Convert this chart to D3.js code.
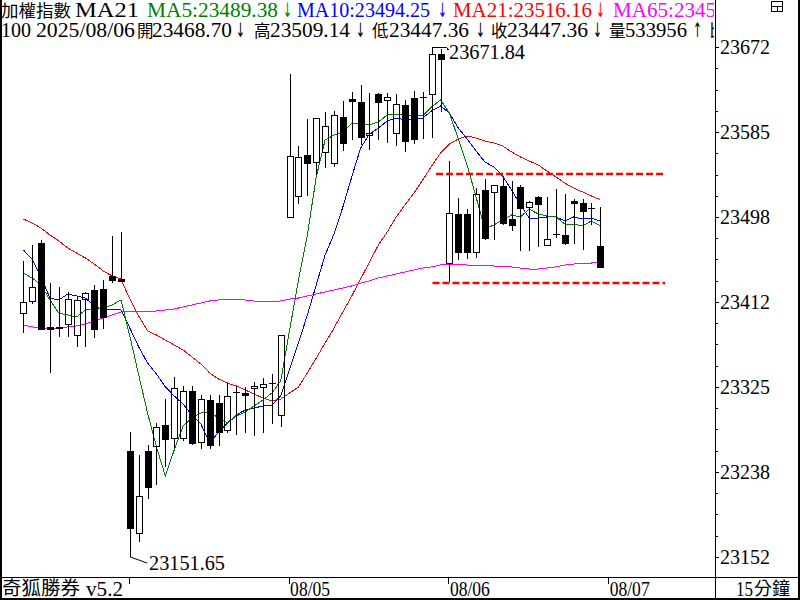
<!DOCTYPE html>
<html>
<head>
<meta charset="utf-8">
<script src="https://cdn.jsdelivr.net/npm/d3@7"></script>
<style>
  html, body { margin: 0; padding: 0; background: #fff; }
  svg { display: block; }
</style>
</head>
<body>
<div id="chart"></div>
<script>
// 15 minute bars: 08/01 (last 12), 08/04, 08/05, 08/06
const open = [
  23400.5, 23412.8, 23471.9, 23386.3, 23386.3, 23389.3, 23378.1, 23414.8, 23424.0, 23425.0, 23438.3, 23435.2,
  23259.8, 23176.1, 23259.8, 23264.9, 23286.3, 23273.0, 23273.0, 23321.0, 23269.0, 23311.8, 23308.7, 23281.2, 23320.0, 23318.9, 23324.0, 23325.1, 23329.1, 23296.5,
  23498.5, 23519.9, 23561.7, 23554.6, 23564.8, 23553.5, 23600.5, 23618.8, 23615.8, 23582.1, 23623.9, 23617.8, 23584.1, 23612.7, 23619.8, 23620.9, 23623.9, 23664.7,
  23451.5, 23501.5, 23501.5, 23462.8, 23526.0, 23524.0, 23530.1, 23496.4, 23529.1, 23508.7, 23518.9, 23469.9, 23481.1, 23480.1, 23514.8, 23512.7, 23507.6, 23468.70
];
const high = [
  23453.6, 23469.9, 23475.0, 23431.1, 23427.1, 23422.0, 23416.9, 23422.0, 23429.1, 23434.2, 23479.1, 23483.2,
  23279.2, 23255.7, 23265.9, 23288.3, 23312.8, 23335.3, 23326.1, 23326.1, 23316.9, 23316.9, 23316.9, 23329.1, 23326.1, 23325.1, 23330.2, 23334.2, 23338.3, 23378.1,
  23644.3, 23570.9, 23598.4, 23599.4, 23605.6, 23606.6, 23616.8, 23626.0, 23633.1, 23624.9, 23624.9, 23624.9, 23623.9, 23617.8, 23627.0, 23626.0, 23671.84, 23669.8,
  23555.6, 23517.8, 23506.6, 23528.0, 23537.2, 23531.1, 23538.2, 23535.2, 23531.1, 23514.8, 23519.9, 23518.9, 23527.0, 23521.9, 23516.8, 23516.8, 23512.7, 23509.14
];
const low = [
  23380.1, 23409.7, 23383.2, 23339.3, 23376.1, 23376.1, 23365.9, 23365.9, 23375.0, 23384.2, 23431.1, 23432.2,
  23151.65, 23167.0, 23210.8, 23225.1, 23243.5, 23262.8, 23270.0, 23265.9, 23261.8, 23261.8, 23264.9, 23278.1, 23276.1, 23278.1, 23275.1, 23278.1, 23287.3, 23284.3,
  23498.5, 23511.7, 23519.9, 23541.3, 23548.4, 23549.5, 23565.8, 23577.0, 23571.9, 23566.8, 23577.0, 23573.9, 23570.9, 23564.8, 23572.9, 23578.0, 23579.0, 23605.6,
  23432.2, 23454.6, 23455.6, 23456.6, 23475.0, 23475.0, 23490.3, 23484.2, 23463.8, 23463.8, 23467.9, 23469.9, 23477.0, 23469.9, 23470.9, 23464.8, 23490.3, 23447.36
];
const close = [
  23411.8, 23427.1, 23384.2, 23384.2, 23385.2, 23414.8, 23413.8, 23420.9, 23384.2, 23396.5, 23434.2, 23433.2,
  23181.2, 23213.9, 23223.1, 23284.3, 23272.0, 23324.0, 23321.0, 23267.9, 23312.8, 23265.9, 23279.2, 23315.9, 23320.0, 23316.4, 23326.1, 23328.1, 23329.1, 23378.1,
  23560.7, 23559.7, 23553.5, 23599.4, 23591.3, 23602.5, 23573.9, 23616.8, 23580.1, 23584.1, 23615.8, 23620.9, 23613.7, 23576.0, 23578.0, 23620.9, 23664.7, 23659.6,
  23502.5, 23462.8, 23462.8, 23521.9, 23477.0, 23531.1, 23492.3, 23490.3, 23507.6, 23513.8, 23511.7, 23476.0, 23481.1, 23471.9, 23512.7, 23504.6, 23507.6, 23447.36
];

// moving averages
const ma5 = [
  23441.3, 23436.2, 23429.1, 23413.8, 23400.5, 23398.5, 23396.5, 23403.6, 23404.6, 23405.6, 23408.7, 23413.8,
  23377.1, 23337.3, 23298.5, 23263.9, 23234.3, 23260.8, 23285.3, 23293.4, 23298.5, 23299.6, 23293.4, 23288.3, 23295.5, 23299.6, 23305.7, 23311.8, 23318.9, 23331.2,
  23383.2, 23434.2, 23480.1, 23539.3, 23577.0, 23582.1, 23585.2, 23594.3, 23594.3, 23592.3, 23595.4, 23602.5, 23602.5, 23602.5, 23601.5, 23601.5, 23610.7, 23617.8,
  23604.5, 23578.0, 23551.5, 23518.9, 23486.2, 23490.3, 23495.4, 23500.5, 23498.5, 23506.6, 23501.5, 23499.5, 23498.5, 23491.3, 23491.3, 23489.3, 23494.4, 23489.38
];
const ma10 = [
  23464.8, 23455.6, 23437.3, 23415.8, 23413.8, 23419.9, 23417.9, 23415.8, 23407.7, 23403.6, 23403.6, 23403.6,
  23385.2, 23365.9, 23349.5, 23338.3, 23325.1, 23315.9, 23307.7, 23296.5, 23287.3, 23267.9, 23279.2, 23288.3, 23296.5, 23301.6, 23303.6, 23305.7, 23306.7, 23315.9,
  23343.4, 23369.9, 23398.5, 23429.1, 23459.7, 23481.1, 23508.7, 23539.3, 23568.8, 23583.1, 23589.2, 23596.4, 23599.4, 23597.4, 23597.4, 23599.4, 23606.6, 23611.7,
  23604.5, 23589.2, 23578.0, 23565.8, 23554.6, 23549.5, 23540.3, 23526.0, 23510.7, 23497.4, 23497.4, 23498.5, 23498.5, 23494.4, 23498.5, 23496.4, 23497.4, 23494.25
];
const ma21 = [
  23496.4, 23492.3, 23487.2, 23480.1, 23474.0, 23466.8, 23461.7, 23456.6, 23450.5, 23443.4, 23438.3, 23435.2,
  23414.8, 23397.5, 23382.2, 23378.1, 23373.0, 23367.9, 23362.8, 23355.7, 23348.5, 23339.3, 23333.2, 23329.1, 23326.1, 23322.0, 23317.9, 23313.8, 23310.8, 23312.8,
  23318.9, 23325.1, 23339.3, 23354.6, 23369.9, 23385.2, 23401.6, 23417.9, 23435.2, 23452.6, 23469.9, 23483.2, 23498.5, 23510.7, 23522.9, 23536.2, 23550.5, 23563.7,
  23572.9, 23578.0, 23581.1, 23579.0, 23576.0, 23573.9, 23570.9, 23564.8, 23559.7, 23555.6, 23551.5, 23545.4, 23539.3, 23533.1, 23528.0, 23524.0, 23519.9, 23516.16
];
const ma65 = [
  23388.3, 23386.3, 23385.2, 23385.2, 23385.2, 23386.3, 23387.3, 23389.3, 23392.4, 23395.4, 23398.5, 23401.6,
  23401.6, 23401.6, 23401.6, 23402.6, 23403.6, 23404.6, 23406.7, 23408.7, 23410.7, 23412.8, 23413.8, 23414.8, 23413.8, 23413.8, 23412.8, 23411.8, 23411.8, 23412.8,
  23414.8, 23415.8, 23417.9, 23419.9, 23422.0, 23424.0, 23426.0, 23428.1, 23431.1, 23433.2, 23436.2, 23438.3, 23440.3, 23442.4, 23444.4, 23446.4, 23447.5, 23449.5,
  23450.5, 23450.5, 23449.5, 23448.5, 23448.5, 23448.5, 23447.5, 23447.5, 23446.4, 23445.4, 23445.4, 23446.4, 23447.5, 23449.5, 23450.5, 23451.5, 23451.5, 23453.2
];

const lastVolume = 533956;
const lastDate = "2025/08/06";
const dayStarts = [12, 30, 48, 66];
const dayLabels = ["", "08/05", "08/06", "08/07"];
const priceTicks = [23151.65, 23238.35, 23325.05, 23411.75, 23498.44, 23585.14, 23671.84];
// hand drawn box lines (price level, first bar, last bar)
const boxLevels = [23542.3, 23431.1];
const boxFrom = [46.5, 46.1];
const boxTo = 72.3;

const W = 800;
const H = 600;
const plotRight = 715;
const footerTop = 577;
const serif = "'Liberation Serif', 'Times New Roman', serif";
const cjk = "'Noto Sans CJK TC', 'Noto Sans CJK SC', sans-serif";

const svg = d3
  .select("#chart")
  .append("svg")
  .attr("width", W)
  .attr("height", H)
  .style("font-family", serif);

svg.append("rect").attr("width", W).attr("height", H).attr("fill", "#fff");

const defs = svg.append("defs");
defs
  .append("clipPath")
  .attr("id", "plot-clip")
  .append("rect")
  .attr("width", plotRight)
  .attr("height", footerTop);

const x = d3.scaleLinear().domain([0, 65]).range([23.3, 600.3]);
const y = d3.scaleLinear().domain([23151.65, 23671.84]).range([557, 47]);
const px = (i) => Math.round(x(i));
const py = (v) => Math.round(y(v));

const plot = svg.append("g").attr("clip-path", "url(#plot-clip)");

// moving average lines (under the candles)
const maSeries = [
  { values: ma65, color: "#ff00ff" },
  { values: ma21, color: "#ff0000" },
  { values: ma10, color: "#0000ff" },
  { values: ma5, color: "#008000" },
];
const maLine = d3
  .line()
  .x((d, i) => x(i))
  .y((d) => y(d));

plot
  .selectAll("path.ma")
  .data(maSeries)
  .join("path")
  .attr("class", "ma")
  .attr("d", (d) => maLine(d.values))
  .attr("fill", "none")
  .attr("stroke", (d) => d.color)
  .attr("stroke-width", 1)
  .attr("shape-rendering", "crispEdges");

// candles
const bars = open.map((o, i) => ({ i, o, h: high[i], l: low[i], c: close[i] }));

plot
  .selectAll("g.candle")
  .data(bars)
  .join("g")
  .attr("class", "candle")
  .attr("shape-rendering", "crispEdges")
  .each(function (d) {
    const g = d3.select(this);
    const cx = px(d.i) + 0.5;
    const top = py(Math.max(d.o, d.c));
    const bot = py(Math.min(d.o, d.c));
    const up = d.c > d.o;

    g.append("line")
      .attr("x1", cx).attr("x2", cx)
      .attr("y1", py(d.h)).attr("y2", top)
      .attr("stroke", "#000");
    g.append("line")
      .attr("x1", cx).attr("x2", cx)
      .attr("y1", bot).attr("y2", py(d.l))
      .attr("stroke", "#000");

    if (bot - top < 1) {
      // doji
      g.append("line")
        .attr("x1", cx - 3.5).attr("x2", cx + 3.5)
        .attr("y1", top + 0.5).attr("y2", top + 0.5)
        .attr("stroke", "#000");
    } else {
      g.append("rect")
        .attr("x", cx - 3)
        .attr("y", top + 0.5)
        .attr("width", 6)
        .attr("height", bot - top)
        .attr("fill", up ? "none" : "#000")
        .attr("stroke", "#000");
    }
  });

// box lines drawn on the chart
plot
  .selectAll("line.box")
  .data(boxLevels)
  .join("line")
  .attr("class", "box")
  .attr("x1", (d, k) => x(boxFrom[k]))
  .attr("x2", x(boxTo))
  .attr("y1", (d) => y(d))
  .attr("y2", (d) => y(d))
  .attr("stroke", "#ff0000")
  .attr("stroke-width", 2.5)
  .attr("stroke-dasharray", "7,3");

// highest / lowest labels
const hiIdx = d3.maxIndex(high);
const loIdx = d3.minIndex(low);

plot
  .append("path")
  .attr("d", `M${px(hiIdx) + 0.5},${py(high[hiIdx]) + 0.5}H446.5L448.5,${py(high[hiIdx]) + 3}`)
  .attr("fill", "none")
  .attr("stroke", "#000")
  .attr("shape-rendering", "crispEdges");
plot
  .append("text")
  .attr("x", 449)
  .attr("y", py(high[hiIdx]) + 12)
  .attr("font-size", 20)
  .attr("textLength", 76)
  .attr("lengthAdjust", "spacingAndGlyphs")
  .text(high[hiIdx].toFixed(2));

plot
  .append("path")
  .attr("d", `M${px(loIdx) + 0.5},${py(low[loIdx])}L147,${py(low[loIdx]) + 6}`)
  .attr("fill", "none")
  .attr("stroke", "#000");
plot
  .append("text")
  .attr("x", 149)
  .attr("y", py(low[loIdx]) + 13)
  .attr("font-size", 20)
  .attr("textLength", 76)
  .attr("lengthAdjust", "spacingAndGlyphs")
  .text(low[loIdx].toFixed(2));

// header
defs
  .append("clipPath")
  .attr("id", "head-clip")
  .append("rect")
  .attr("width", plotRight - 1)
  .attr("height", 44);

const head = svg.append("g").attr("clip-path", "url(#head-clip)");
const last = open.length - 1;
const down = "\u2193";
const upArrow = "\u2191";

const headerLine1 = [
  { t: "加權指數", x: 1, c: "#000", cjk: true, len: 70 },
  { t: "MA21", x: 75, c: "#000", len: 64 },
  { t: "MA5:" + ma5[last].toFixed(2), x: 147, c: "#008000", len: 131 },
  { t: down, x: 283, c: "#008000", arrow: true },
  { t: "MA10:" + ma10[last].toFixed(2), x: 297, c: "#0000ff", len: 133 },
  { t: down, x: 438, c: "#0000ff", arrow: true },
  { t: "MA21:" + ma21[last].toFixed(2), x: 453, c: "#ff0000", len: 139 },
  { t: down, x: 596, c: "#ff0000", arrow: true },
  { t: "MA65:" + ma65[last].toFixed(2), x: 613, c: "#ff00ff", len: 140 },
];
const headerLine2 = [
  { t: "100", x: 1, len: 30 },
  { t: lastDate, x: 36, len: 99 },
  { t: "開", x: 137, cjk: true },
  { t: open[last].toFixed(2), x: 152, len: 80 },
  { t: down, x: 236, arrow: true },
  { t: "高", x: 254, cjk: true },
  { t: high[last].toFixed(2), x: 270, len: 80 },
  { t: down, x: 356, arrow: true },
  { t: "低", x: 372, cjk: true },
  { t: low[last].toFixed(2), x: 389, len: 80 },
  { t: down, x: 476, arrow: true },
  { t: "收", x: 491, cjk: true },
  { t: close[last].toFixed(2), x: 507, len: 81 },
  { t: down, x: 593, arrow: true },
  { t: "量", x: 609, cjk: true },
  { t: String(lastVolume), x: 625, len: 62 },
  { t: upArrow, x: 693, arrow: true },
  { t: "比", x: 709, cjk: true },
];

function drawHeader(items, baseline) {
  head
    .selectAll(null)
    .data(items)
    .join("text")
    .attr("x", (d) => d.x)
    .attr("y", baseline)
    .attr("fill", (d) => d.c || "#000")
    .attr("font-family", (d) => (d.cjk ? cjk : d.arrow ? "'DejaVu Sans', sans-serif" : serif))
    .attr("font-size", (d) => (d.cjk ? 16.5 : 20))
    .attr("textLength", (d) => (d.arrow ? 9 : d.len || null))
    .attr("lengthAdjust", "spacingAndGlyphs")
    .text((d) => d.t);
}
drawHeader(headerLine1, 17);
drawHeader(headerLine2, 37);

// right price axis
const yAxis = d3
  .axisRight(y)
  .tickValues(priceTicks)
  .tickSize(3)
  .tickPadding(1)
  .tickFormat((d) => Math.round(d));

const axisG = svg
  .append("g")
  .attr("transform", `translate(${plotRight + 1},0)`)
  .call(yAxis);
axisG.select(".domain").remove();
axisG
  .selectAll("text")
  .attr("font-family", serif)
  .attr("font-size", 20)
  .attr("fill", "#000")
  .attr("textLength", 50)
  .attr("lengthAdjust", "spacingAndGlyphs");
axisG.selectAll("line").attr("shape-rendering", "crispEdges");

const minorTicks = [];
d3.pairs(priceTicks).forEach(([a, b]) => {
  [0.25, 0.5, 0.75].forEach((f) => minorTicks.push(a + (b - a) * f));
});
const minorG = svg
  .append("g")
  .attr("transform", `translate(${plotRight + 1},0)`)
  .call(d3.axisRight(y).tickValues(minorTicks).tickSize(2).tickFormat(""));
minorG.select(".domain").remove();
minorG.selectAll("line").attr("shape-rendering", "crispEdges");

// bottom date axis
const xAxis = d3
  .axisBottom(x)
  .tickValues(dayStarts)
  .tickSize(6)
  .tickFormat((d, k) => dayLabels[k]);

const xAxisG = svg
  .append("g")
  .attr("transform", `translate(-1,${footerTop + 1})`)
  .call(xAxis);
xAxisG.select(".domain").remove();
xAxisG.selectAll("line").attr("shape-rendering", "crispEdges");
xAxisG
  .selectAll("text")
  .attr("text-anchor", "start")
  .attr("x", 1)
  .attr("y", 18)
  .attr("dy", null)
  .attr("font-family", serif)
  .attr("font-size", 22)
  .attr("fill", "#000")
  .attr("textLength", (d, k) => (dayLabels[k] ? 40 : null))
  .attr("lengthAdjust", "spacingAndGlyphs");

// footer texts
svg
  .append("rect")
  .attr("x", 2)
  .attr("y", footerTop + 1)
  .attr("width", 122)
  .attr("height", 20)
  .attr("fill", "#fff");
svg
  .append("text")
  .attr("x", 2)
  .attr("y", 595)
  .attr("font-family", cjk)
  .attr("font-size", 19)
  .attr("textLength", 78)
  .attr("lengthAdjust", "spacingAndGlyphs")
  .text("奇狐勝券");
svg
  .append("text")
  .attr("x", 86)
  .attr("y", 596)
  .attr("font-size", 22)
  .attr("textLength", 37)
  .attr("lengthAdjust", "spacingAndGlyphs")
  .text("v5.2");

svg
  .append("text")
  .attr("x", 736)
  .attr("y", 596)
  .attr("font-size", 22)
  .attr("textLength", 17)
  .attr("lengthAdjust", "spacingAndGlyphs")
  .text("15");
svg
  .append("text")
  .attr("x", 754)
  .attr("y", 595)
  .attr("font-family", cjk)
  .attr("font-size", 18)
  .text("分鐘");

// frame
const frame = svg.append("g").attr("stroke", "#000").attr("shape-rendering", "crispEdges");
frame.append("line").attr("x1", 0).attr("x2", W).attr("y1", footerTop + 0.5).attr("y2", footerTop + 0.5);
frame.append("line").attr("x1", plotRight + 0.5).attr("x2", plotRight + 0.5).attr("y1", 0).attr("y2", H);
frame
  .append("rect")
  .attr("x", 1)
  .attr("y", -2)
  .attr("width", W - 2)
  .attr("height", H + 1)
  .attr("fill", "none")
  .attr("stroke-width", 2);

// window icon at top right
const icon = svg.append("g").attr("stroke", "#000").attr("fill", "none").attr("shape-rendering", "crispEdges");
icon.append("rect").attr("x", 771.5).attr("y", 1.5).attr("width", 11).attr("height", 10);
icon.append("line").attr("x1", 771.5).attr("x2", 782.5).attr("y1", 6.5).attr("y2", 6.5);
icon.append("line").attr("x1", 777.5).attr("x2", 777.5).attr("y1", 6.5).attr("y2", 11.5);
</script>
</body>
</html>
